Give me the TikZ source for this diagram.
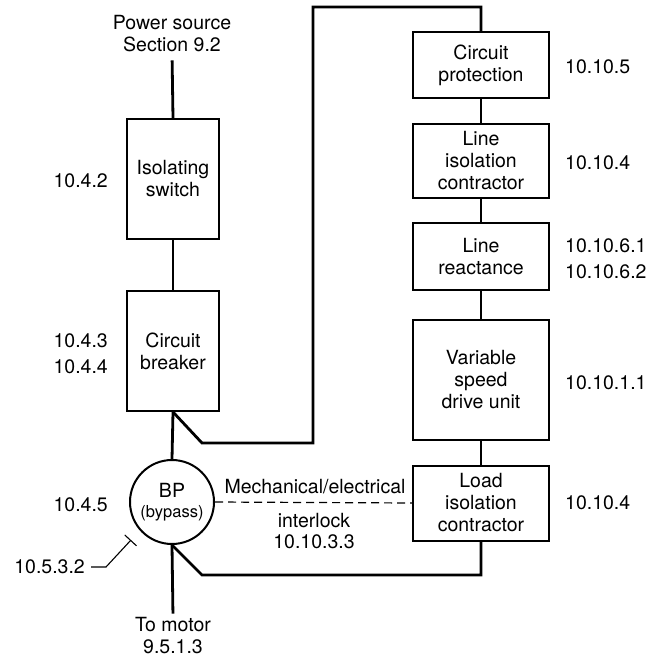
\documentclass[tikz,border=0pt]{standalone}
\usepackage{fontspec}
\setmainfont{TeX Gyre Heros}
\usetikzlibrary{arrows.meta}
\begin{document}
\begin{tikzpicture}[x=1bp,y=-1bp,
  txt/.style={inner sep=0pt, align=center, font=\fontsize{19.5bp}{22bp}\selectfont},
  lbl/.style={inner sep=0pt, align=left, font=\fontsize{19.5bp}{26bp}\selectfont},
  lblr/.style={inner sep=0pt, align=right, font=\fontsize{19.5bp}{26bp}\selectfont},
  box/.style={draw, line width=2bp, inner sep=0pt, align=center, minimum width=92bp, font=\fontsize{19.5bp}{22bp}\selectfont},
  rbox/.style={box, minimum width=136bp},
  wire/.style={line width=2.8bp, line join=miter},
  dashline/.style={line width=1.2bp, dash pattern=on 8bp off 5bp},
  leader/.style={line width=1.1bp}
]
\useasboundingbox (0,0) rectangle (661,657);

% left column
\node[txt] (ps) at (172,34) {Power source\\Section 9.2};
\node[box, minimum height=120bp] (iso) at (173,179) {Isolating\\switch};
\node[box, minimum height=120bp] (cb) at (173,351) {Circuit\\breaker};
\node[circle, draw, line width=2bp, minimum size=84bp, inner sep=0pt, align=center,
  font=\fontsize{19.5bp}{20bp}\selectfont] (bp) at (172,502)
  {BP\\{\fontsize{16.5bp}{20bp}\selectfont (bypass)}};
\node[txt] (motor) at (173,636) {To motor\\9.5.1.3};

% right column
\node[rbox, minimum height=66bp] (cp) at (481,65) {Circuit\\protection};
\node[rbox, minimum height=74bp] (lic) at (481,161) {Line\\isolation\\contractor};
\node[rbox, minimum height=67bp] (lr) at (481,256.5) {Line\\reactance};
\node[rbox, minimum height=120bp] (vsd) at (481,380) {Variable\\speed\\drive unit};
\node[rbox, minimum height=75bp] (lo) at (481,503) {Load\\isolation\\contractor};

% labels
\node[lblr, anchor=east] (l42) at (108,181) {10.4.2};
\node[lblr, anchor=east] (l43) at (108,354) {10.4.3\\10.4.4};
\node[lblr, anchor=east] (l45) at (108,505) {10.4.5};
\node[lblr, anchor=east] (l532) at (85,567) {10.5.3.2};
\node[lbl, anchor=west] (r105) at (565,67) {10.10.5};
\node[lbl, anchor=west] (r104a) at (565,163) {10.10.4};
\node[lbl, anchor=west] (r106) at (565,259) {10.10.6.1\\10.10.6.2};
\node[lbl, anchor=west] (r101) at (565,383) {10.10.1.1};
\node[lbl, anchor=west] (r104b) at (565,503) {10.10.4};
\node[txt] (mech) at (315,487) {Mechanical/electrical};
\node[txt, font=\fontsize{19.5bp}{21bp}\selectfont] (inter) at (314,531) {interlock\\10.10.3.3};

% coordinates
\coordinate (topL) at (313,7);
\coordinate (bk) at (202,575);
\coordinate (tick) at (131,540);

% wires
\draw[wire, shorten <=8bp] (ps.south) -- (iso.north);
\draw[wire] (iso.south) -- (cb.north);
\draw[wire] (cb.south) -- (bp.north);
\draw[wire] (cb.south) -- ++(29,31) -| (topL) -| (cp.north);
\draw[wire] (cp.south) -- (lic.north);
\draw[wire] (lic.south) -- (lr.north);
\draw[wire] (lr.south) -- (vsd.north);
\draw[wire] (vsd.south) -- (lo.north);
\draw[wire] (lo.south) |- (bk) -- (bp.south);
\draw[wire, shorten >=4bp] (bp.south) -- (motor.north);
\draw[dashline] (bp.east) -- (lo.west);
\draw[leader, shorten <=6bp, -{Bar[width=16bp,line width=1.1bp]}] (l532.east) -- ++(21,0) -- (tick);
\end{tikzpicture}
\end{document}
